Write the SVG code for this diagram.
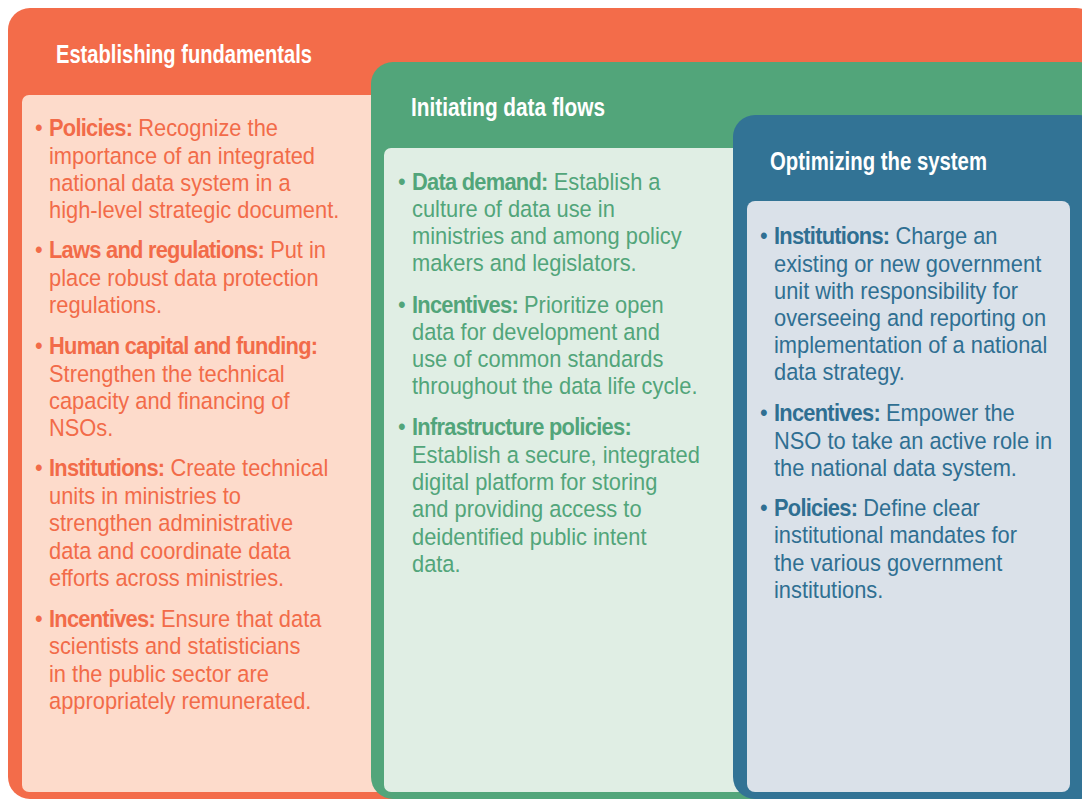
<svg xmlns="http://www.w3.org/2000/svg" width="1082" height="799" viewBox="0 0 1082 799">
<style>
.hd{font-family:"Liberation Sans",Arial,sans-serif;font-weight:bold;font-size:25px;fill:#ffffff}
.bd{font-family:"Liberation Sans",Arial,sans-serif;font-size:23.5px}
.b{font-weight:bold;letter-spacing:-0.8px}
.or{fill:#F26B49}
.gr{fill:#52A57A}
.bl{fill:#2F6F92}
</style>
<rect width="1082" height="799" fill="#ffffff"/>
<g id="establishing">
<rect x="8" y="8" width="1090" height="791" rx="22" fill="#F36C4A"/>
<rect x="22" y="95" width="400" height="697" rx="7" fill="#FDDBCB"/>
<text class="hd" x="56" y="63" textLength="256" lengthAdjust="spacingAndGlyphs">Establishing fundamentals</text>
<g class="bd or" transform="translate(49 0) scale(0.93 1)">
<text x="-15" y="136">•</text><text x="0" y="136"><tspan class="b">Policies:</tspan> Recognize the</text>
<text x="0" y="164">importance of an integrated</text>
<text x="0" y="191">national data system in a</text>
<text x="0" y="218">high-level strategic document.</text>
<text x="-15" y="258">•</text><text x="0" y="258"><tspan class="b">Laws and regulations:</tspan> Put in</text>
<text x="0" y="286">place robust data protection</text>
<text x="0" y="313">regulations.</text>
<text x="-15" y="354">•</text><text x="0" y="354"><tspan class="b">Human capital and funding:</tspan></text>
<text x="0" y="382">Strengthen the technical</text>
<text x="0" y="409">capacity and financing of</text>
<text x="0" y="436">NSOs.</text>
<text x="-15" y="476">•</text><text x="0" y="476"><tspan class="b">Institutions:</tspan> Create technical</text>
<text x="0" y="504">units in ministries to</text>
<text x="0" y="531">strengthen administrative</text>
<text x="0" y="559">data and coordinate data</text>
<text x="0" y="586">efforts across ministries.</text>
<text x="-15" y="627">•</text><text x="0" y="627"><tspan class="b">Incentives:</tspan> Ensure that data</text>
<text x="0" y="654">scientists and statisticians</text>
<text x="0" y="682">in the public sector are</text>
<text x="0" y="709">appropriately remunerated.</text>
</g>
</g>
<g id="initiating">
<rect x="371" y="62" width="730" height="737" rx="22" fill="#52A57A"/>
<rect x="384" y="148" width="400" height="644" rx="7" fill="#E0EEE4"/>
<text class="hd" x="411" y="116" textLength="194" lengthAdjust="spacingAndGlyphs">Initiating data flows</text>
<g class="bd gr" transform="translate(412 0) scale(0.93 1)">
<text x="-15" y="190">•</text><text x="0" y="190"><tspan class="b">Data demand:</tspan> Establish a</text>
<text x="0" y="217">culture of data use in</text>
<text x="0" y="244">ministries and among policy</text>
<text x="0" y="271">makers and legislators.</text>
<text x="-15" y="313">•</text><text x="0" y="313"><tspan class="b">Incentives:</tspan> Prioritize open</text>
<text x="0" y="340">data for development and</text>
<text x="0" y="367">use of common standards</text>
<text x="0" y="394">throughout the data life cycle.</text>
<text x="-15" y="435">•</text><text x="0" y="435"><tspan class="b">Infrastructure policies:</tspan></text>
<text x="0" y="463">Establish a secure, integrated</text>
<text x="0" y="490">digital platform for storing</text>
<text x="0" y="517">and providing access to</text>
<text x="0" y="545">deidentified public intent</text>
<text x="0" y="572">data.</text>
</g>
</g>
<g id="optimizing">
<rect x="733" y="115" width="368" height="684" rx="22" fill="#327395"/>
<rect x="747" y="201" width="323" height="591" rx="8" fill="#DAE1E9"/>
<text class="hd" x="770" y="170" textLength="217" lengthAdjust="spacingAndGlyphs">Optimizing the system</text>
<g class="bd bl" transform="translate(774 0) scale(0.93 1)">
<text x="-15" y="244">•</text><text x="0" y="244"><tspan class="b">Institutions:</tspan> Charge an</text>
<text x="0" y="272">existing or new government</text>
<text x="0" y="299">unit with responsibility for</text>
<text x="0" y="326">overseeing and reporting on</text>
<text x="0" y="353">implementation of a national</text>
<text x="0" y="380">data strategy.</text>
<text x="-15" y="421">•</text><text x="0" y="421"><tspan class="b">Incentives:</tspan> Empower the</text>
<text x="0" y="449">NSO to take an active role in</text>
<text x="0" y="476">the national data system.</text>
<text x="-15" y="516">•</text><text x="0" y="516"><tspan class="b">Policies:</tspan> Define clear</text>
<text x="0" y="543">institutional mandates for</text>
<text x="0" y="571">the various government</text>
<text x="0" y="598">institutions.</text>
</g>
</g>
<g id="connectors"></g>
</svg>
